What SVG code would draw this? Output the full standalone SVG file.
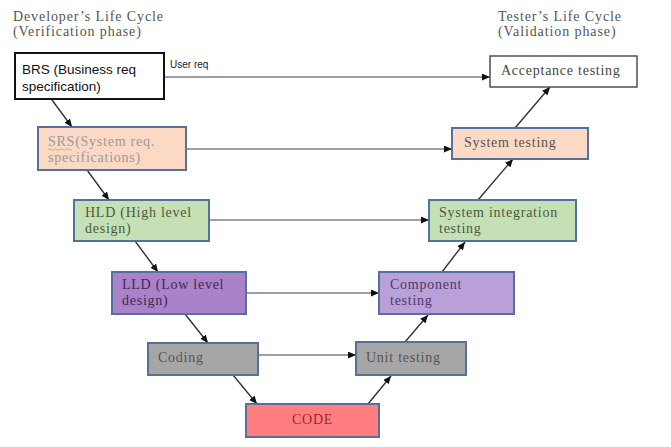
<svg xmlns="http://www.w3.org/2000/svg" width="671" height="447" viewBox="0 0 671 447">
<defs>
<marker id="ah" markerWidth="9" markerHeight="7" refX="8" refY="3.5" orient="auto" markerUnits="userSpaceOnUse">
<path d="M0,0 L8,3.5 L0,7 Z" fill="#111"/>
</marker>
<style>
.hd{font-family:"Liberation Serif","Times New Roman",serif;font-size:14px;fill:#555;letter-spacing:0.9px}
.sf{font-family:"Liberation Serif","Times New Roman",serif;font-size:14px;letter-spacing:0.75px}
.ss{font-family:"Liberation Sans",Arial,sans-serif}
.box{stroke:#56709c;stroke-width:2}
.h{stroke:#808080;stroke-width:1.4;fill:none;marker-end:url(#ah)}
.d{stroke:#333;stroke-width:1.4;fill:none;marker-end:url(#ah)}
</style>
</defs>
<rect width="671" height="447" fill="#fff"/>
<g id="headers">
<text class="hd" x="13" y="21">Developer’s Life Cycle</text>
<text class="hd" x="13" y="36">(Verification phase)</text>
<text class="hd" x="498" y="21">Tester’s Life Cycle</text>
<text class="hd" x="498" y="36">(Validation phase)</text>
</g>
<g id="connectors">
<path class="d" d="M52,100 L72,127"/>
<path class="d" d="M87,170 L109,200"/>
<path class="d" d="M135,241 L158,272"/>
<path class="d" d="M185,314 L208,343"/>
<path class="d" d="M233,375 L257,404"/>
<path class="d" d="M368,404 L391,376"/>
<path class="d" d="M405,342 L428,315"/>
<path class="d" d="M442,272 L465,242"/>
<path class="d" d="M478,200 L513,159"/>
<path class="d" d="M515,128 L550,87"/>
<path class="h" d="M164,77 L490,77"/>
<path class="h" d="M186,149 L452,149"/>
<path class="h" d="M209,220 L429,220"/>
<path class="h" d="M246,293 L379,293"/>
<path class="h" d="M258,355 L356,355"/>
<text class="ss" x="170" y="68" font-size="10" fill="#222">User req</text>
</g>
<g id="brs">
<rect x="15" y="53" width="149" height="46" fill="#fff" stroke="#111" stroke-width="2"/>
<text class="ss" x="22" y="74" font-size="13.5" fill="#111">BRS (Business req</text>
<text class="ss" x="22" y="91" font-size="13.5" fill="#111">specification)</text>
</g>
<g id="srs">
<rect class="box" x="38" y="127" width="148" height="43" fill="#fbd9c4"/>
<text class="sf" x="48" y="146" fill="#9a9a9a">SRS(System req.</text>
<text class="sf" x="48" y="162" fill="#9a9a9a">specifications)</text>
<path d="M48,149.5 q1.5,-1.5 3,0 t3,0 t3,0 t3,0 t3,0 t3,0 t3,0 t3,0" fill="none" stroke="#b8a878" stroke-width="0.8"/>
</g>
<g id="hld">
<rect class="box" x="74" y="200" width="135" height="41" fill="#c5e0b4"/>
<text class="sf" x="85" y="217" fill="#4b5a40">HLD (High level</text>
<text class="sf" x="85" y="233" fill="#4b5a40">design)</text>
</g>
<g id="lld">
<rect class="box" x="112" y="272" width="134" height="42" fill="#a982c9"/>
<text class="sf" x="122" y="289" fill="#3d2a58">LLD (Low level</text>
<text class="sf" x="122" y="305" fill="#3d2a58">design)</text>
</g>
<g id="coding">
<rect class="box" x="148" y="343" width="110" height="32" fill="#a6a6a6"/>
<text class="sf" x="158" y="362" fill="#555">Coding</text>
</g>
<g id="code">
<rect class="box" x="246" y="404" width="133" height="33" fill="#ff7f80"/>
<text class="sf" x="312.5" y="424" text-anchor="middle" fill="#a0282c">CODE</text>
</g>
<g id="unit">
<rect class="box" x="356" y="342" width="110" height="33" fill="#a6a6a6"/>
<text class="sf" x="366" y="362" fill="#555">Unit testing</text>
</g>
<g id="component">
<rect class="box" x="379" y="272" width="135" height="42" fill="#b9a0d8"/>
<text class="sf" x="390" y="289" fill="#4a3a68">Component</text>
<text class="sf" x="390" y="305" fill="#4a3a68">testing</text>
</g>
<g id="sysint">
<rect class="box" x="429" y="200" width="147" height="41" fill="#c5e0b4"/>
<text class="sf" x="439" y="217" fill="#4b5a40">System integration</text>
<text class="sf" x="439" y="233" fill="#4b5a40">testing</text>
</g>
<g id="systest">
<rect class="box" x="452" y="128" width="136" height="31" fill="#fbd9c4"/>
<text class="sf" x="464" y="147" fill="#555">System testing</text>
</g>
<g id="acceptance">
<rect x="490" y="56" width="147" height="31" fill="#fff" stroke="#444" stroke-width="1.4"/>
<text class="sf" x="501" y="75" fill="#444">Acceptance testing</text>
</g>
</svg>
